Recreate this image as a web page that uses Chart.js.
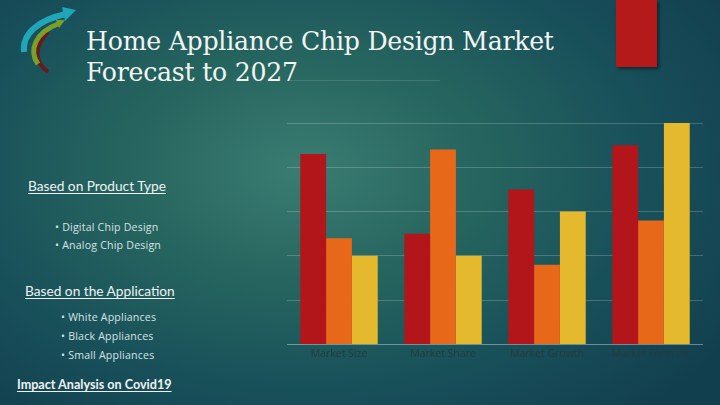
<!DOCTYPE html>
<html>
<head>
<meta charset="utf-8">
<script src="https://cdn.jsdelivr.net/npm/chart.js@4"></script>
<style>
  html, body { margin: 0; padding: 0; }
  body {
    width: 720px; height: 405px; overflow: hidden; position: relative;
    background: radial-gradient(ellipse 70% 80% at 42% 42%, #3a7c72 0%, #26655f 35%, #18505a 68%, #123f4e 100%);
    font-family: "Open Sans", sans-serif;
  }
  .title {
    position: absolute; left: 86px; top: 26px;
    font-family: "DejaVu Serif", serif; font-size: 25.2px; line-height: 31px;
    color: #f2f4f2; letter-spacing: -0.25px;
  }
  .rule { position: absolute; left: 290px; top: 80px; width: 150px; height: 1px; background: rgba(255,255,255,0.12); }
  .deco {
    position: absolute; left: 616px; top: 0; width: 41px; height: 67px;
    background: #b41a1a; box-shadow: 2px 2px 3px rgba(0,0,0,0.45);
  }
  .head {
    position: absolute; font-family: Lato, sans-serif; font-size: 13.7px;
    color: #f0f2f2; text-decoration: underline; text-underline-offset: 2px; white-space: nowrap;
  }
  .item {
    position: absolute; font-family: "Open Sans", sans-serif; font-size: 10.6px;
    color: #d6e2e2; white-space: nowrap; letter-spacing: 0.2px;
  }
  #wrap { position: absolute; left: 287px; top: 118px; width: 416px; height: 245px; }
</style>
</head>
<body>
<svg style="position:absolute;left:18px;top:6px" width="62" height="70" viewBox="0 0 62 70">
  <path d="M30 66 C16 56 16 40 30 26" stroke="#6a1a1a" stroke-width="4" fill="none"/>
  <path d="M20 58 C10 44 18 26 40 18" stroke="#7aa02a" stroke-width="5" fill="none"/>
  <path d="M38 14 L47 14 L41 22 Z" fill="#7aa02a"/>
  <path d="M6 46 C4 28 20 14 48 8" stroke="#1fa6b8" stroke-width="6" fill="none"/>
  <path d="M44 1 L58 4 L47 15 Z" fill="#1fa6b8"/>
</svg>
<div class="title">Home Appliance Chip Design Market<br>Forecast to 2027</div>
<div class="rule"></div>
<div class="deco"></div>

<div class="head" style="left:28px;top:177px">Based on Product Type</div>
<div class="item" style="left:55px;top:220px">• Digital Chip Design</div>
<div class="item" style="left:55px;top:238px">• Analog Chip Design</div>
<div class="head" style="left:25px;top:282px">Based on the Application</div>
<div class="item" style="left:61px;top:310px">• White Appliances</div>
<div class="item" style="left:61px;top:329px">• Black Appliances</div>
<div class="item" style="left:61px;top:348px">• Small Appliances</div>
<div class="head" style="left:17px;top:377px;font-weight:bold;font-size:12.6px">Impact Analysis on Covid19</div>

<div id="wrap"><canvas id="marketChart"></canvas></div>

<script>
const categories = ["Market Size", "Market Share", "Market Growth", "Market Forecast"];
const series1 = [4.3, 2.5, 3.5, 4.5];
const series2 = [2.4, 4.4, 1.8, 2.8];
const series3 = [2, 2, 3, 5];
const yTicks = [0, 1, 2, 3, 4, 5];

const barColors = ["#b3161a", "#e8681a", "#e5b92e"];

const ctx = document.getElementById("marketChart").getContext("2d");
new Chart(ctx, {
  type: "bar",
  data: {
    labels: categories,
    datasets: [series1, series2, series3].map((vals, i) => ({
      label: "Series " + (i + 1),
      data: vals,
      backgroundColor: barColors[i],
      borderWidth: 0,
      barPercentage: 1,
      categoryPercentage: 0.745
    }))
  },
  options: {
    responsive: true,
    maintainAspectRatio: false,
    animation: false,
    layout: { padding: { top: 5, left: 0, right: 0, bottom: 0 } },
    plugins: { legend: { display: false }, tooltip: { enabled: false } },
    scales: {
      x: {
        grid: { display: false, drawTicks: false },
        border: { color: "rgba(255,255,255,0.22)" },
        ticks: { color: "#283a3c", font: { family: "Open Sans", size: 10.5 }, padding: 3 }
      },
      y: {
        min: yTicks[0],
        max: yTicks[yTicks.length - 1],
        afterBuildTicks: axis => { axis.ticks = yTicks.map(v => ({ value: v })); },
        grid: { color: "rgba(255,255,255,0.2)", drawTicks: false },
        border: { display: false },
        ticks: { display: false }
      }
    }
  }
});
</script>
</body>
</html>
